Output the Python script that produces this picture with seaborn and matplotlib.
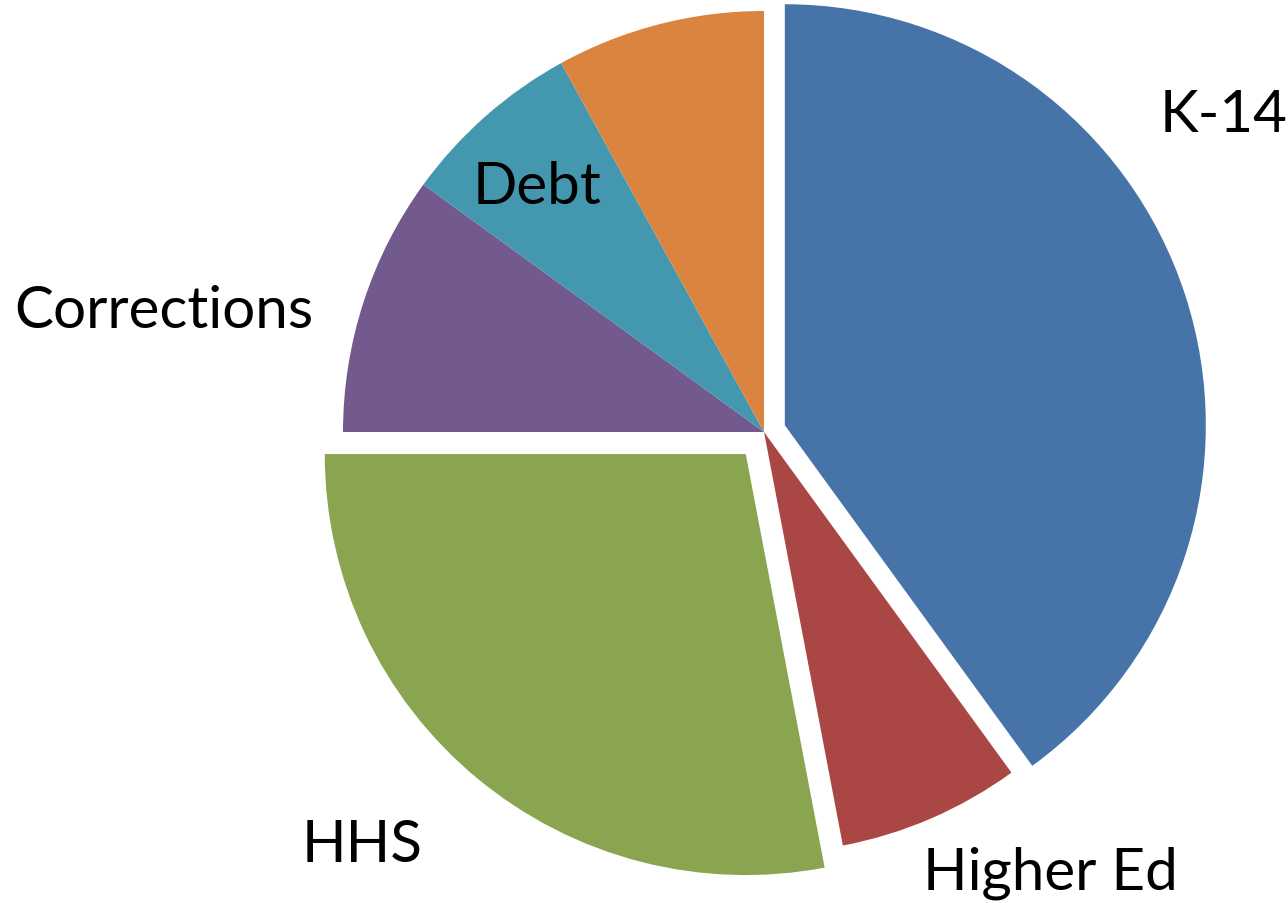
import matplotlib
matplotlib.use("Agg")
import matplotlib.pyplot as plt
import seaborn as sns

# budget shares (percent), clockwise from 12 o'clock
categories = ["K-14", "Higher Ed", "HHS", "Corrections", "Debt", "Other"]
shares = [40.0, 7.0, 28.0, 10.0, 7.0, 8.0]
shown_labels = ["K-14", "Higher Ed", "HHS", "Corrections", "Debt", ""]

sns.set_theme(style="white")
plt.rcParams["font.family"] = ["Lato", "DejaVu Sans"]

colors = ["#4674A8", "#AA4744", "#8AA54F", "#72598E", "#4398AF", "#DB843F"]
explode = [0.052, 0, 0.068, 0, 0, 0]

W, H = 1288, 904
cx, cy, r = 764, 433, 421

fig = plt.figure(figsize=(W / 100, H / 100), dpi=100)
ax = fig.add_axes([0, 0, 1, 1])
ax.pie(shares, colors=colors, explode=explode, startangle=90,
       counterclock=False, radius=1,
       wedgeprops=dict(linewidth=0, edgecolor="none"))
ax.set_xlim(-cx / r, (W - cx) / r)
ax.set_ylim(-(H - cy) / r, cy / r)
ax.set_aspect("equal")
ax.axis("off")

# label positions (pixel coords of text centre / baseline)
label_pos = {
    "K-14": (1224, 132),
    "Higher Ed": (1050, 890),
    "HHS": (362, 862),
    "Corrections": (164, 328),
    "Debt": (537, 204),
}
for name in shown_labels:
    if not name:
        continue
    x, y = label_pos[name]
    fig.text(x / W, 1 - y / H, name, ha="center", va="baseline",
             fontsize=42, color="black")

fig.savefig("out.png", dpi=100, facecolor="white")
